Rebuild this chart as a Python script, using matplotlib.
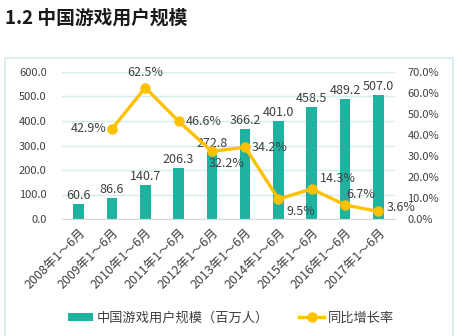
import numpy as np
import matplotlib.pyplot as plt
from matplotlib.patches import Rectangle
from matplotlib.ticker import FuncFormatter

plt.rcParams['font.family'] = ['Noto Sans CJK SC', 'DejaVu Sans']

years = ['2008年1～6月', '2009年1～6月', '2010年1～6月', '2011年1～6月', '2012年1～6月',
         '2013年1～6月', '2014年1～6月', '2015年1～6月', '2016年1～6月', '2017年1～6月']
users = [60.6, 86.6, 140.7, 206.3, 272.8, 366.2, 401.0, 458.5, 489.2, 507.0]
growth = [None, 42.9, 62.5, 46.6, 32.2, 34.2, 9.5, 14.3, 6.7, 3.6]

bar_color = '#20B2A0'
line_color = '#FFC000'
text_color = '#404040'
grid_color = '#D0EEEE'

fig = plt.figure(figsize=(4.62, 3.36), dpi=100)
fig.text(0.011, 0.945, '1.2 中国游戏用户规模', fontsize=13.5, fontweight='bold',
         color='#1a1a1a', va='center')
fig.patches.append(Rectangle((5 / 462, -0.01), 448 / 462, 1 - 58 / 336 + 0.01,
                             transform=fig.transFigure, fill=False,
                             edgecolor='#D3EEEE', linewidth=1.2))

ax = fig.add_axes([62 / 462, 1 - 219 / 336, 333 / 462, 147 / 336])
x = np.arange(len(years))
ax.bar(x, users, width=0.32, color=bar_color, zorder=2, label='中国游戏用户规模（百万人）')
ax.set_ylim(0, 600)
ax.set_xlim(-0.5, len(years) - 0.5)
ax.set_yticks(np.arange(0, 601, 100))
ax.yaxis.set_major_formatter(FuncFormatter(lambda v, p: f'{v:.1f}'))
ax.grid(axis='y', color=grid_color, linewidth=1, zorder=0)
for s in ['top', 'right', 'left']:
    ax.spines[s].set_visible(False)
ax.spines['bottom'].set_color('#D9D9D9')
ax.tick_params(axis='both', length=0, labelsize=8, colors=text_color)
ax.tick_params(axis='y', pad=11)
ax.tick_params(axis='x', pad=5)
ax.set_xticks(x)
ax.set_xticklabels(years, rotation=45, ha='right', rotation_mode='anchor', fontsize=9)
for xi, v in zip(x, users):
    ax.text(xi, v + 8, f'{v:.1f}', ha='center', va='bottom', fontsize=9, color=text_color)

ax2 = ax.twinx()
gx = [xi for xi, g in zip(x, growth) if g is not None]
gy = [g for g in growth if g is not None]
ax2.plot(gx, gy, color=line_color, linewidth=2.4, marker='o', markersize=6.5, zorder=3,
         label='同比增长率')
ax2.set_ylim(0, 70)
ax2.set_yticks(np.arange(0, 71, 10))
ax2.yaxis.set_major_formatter(FuncFormatter(lambda v, p: f'{v:.1f}%'))
for s in ['top', 'right', 'left', 'bottom']:
    ax2.spines[s].set_visible(False)
ax2.tick_params(axis='y', length=0, labelsize=8, colors=text_color, pad=9)

offsets = {1: (-4, 0, 'right', 'center'), 2: (0, 6, 'center', 'bottom'),
           3: (5, 0, 'left', 'center'), 4: (-2, -4, 'left', 'top'),
           5: (5, 0, 'left', 'center'), 6: (6, -4, 'left', 'top'),
           7: (6, 3, 'left', 'bottom'), 8: (1, 3, 'left', 'bottom'),
           9: (6, 2.5, 'left', 'center')}
for xi, g in zip(gx, gy):
    dx, dy, ha, va = offsets[xi]
    ax2.annotate(f'{g:.1f}%', (xi, g), xytext=(dx, dy), textcoords='offset points',
                 ha=ha, va=va, fontsize=9, color=text_color, zorder=4)

h1, l1 = ax.get_legend_handles_labels()
h2, l2 = ax2.get_legend_handles_labels()
fig.legend(h1 + h2, l1 + l2, loc='center', bbox_to_anchor=(0.5, 1 - 318 / 336), ncol=2,
           frameon=False, fontsize=9.5, labelcolor=text_color, handlelength=1.9,
           columnspacing=2.3, handleheight=0.5, handletextpad=0.25)

fig.savefig('out.png', dpi=100)
